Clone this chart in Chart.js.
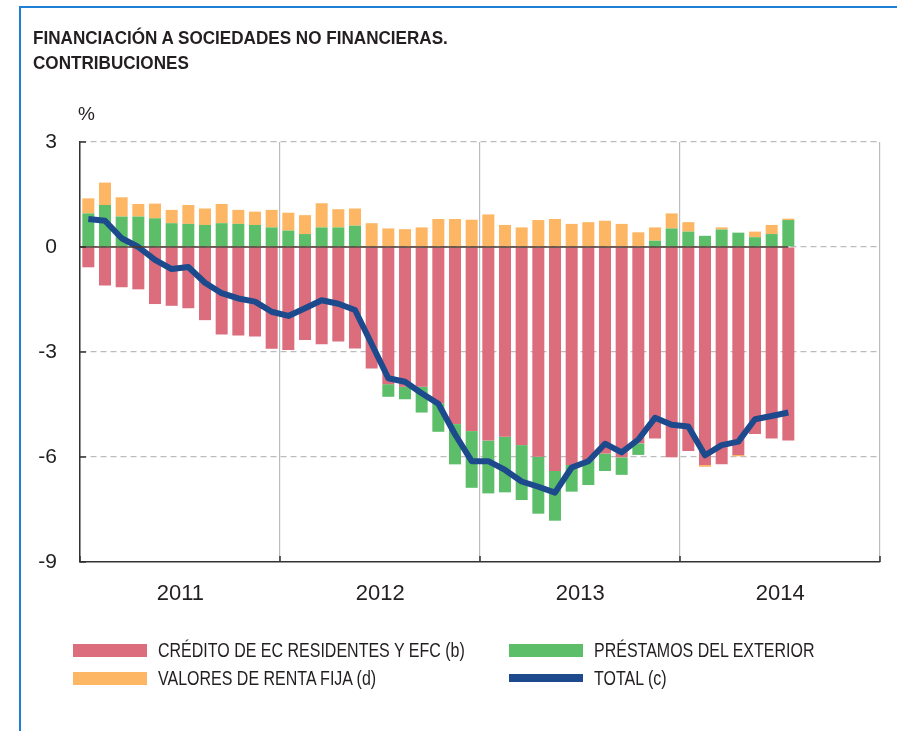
<!DOCTYPE html>
<html>
<head>
<meta charset="utf-8">
<script src="https://cdn.jsdelivr.net/npm/chart.js@4/dist/chart.umd.min.js"></script>
<style>
  body { margin: 0; background: #fff; font-family: "Liberation Sans", Arial, sans-serif; }
  #wrap { position: relative; width: 897px; height: 731px; overflow: hidden; }
  #frame { position: absolute; left: 19px; top: 6px; right: -5px; bottom: -5px;
           border-left: 2px solid #1f7fd4; border-top: 2px solid #1f7fd4; }
  canvas { position: absolute; left: 0; top: 0; }
  .title { position: absolute; left: 33px; top: 26px; font-weight: bold; font-size: 18px;
           line-height: 25px; color: #231f20; transform: scaleX(0.95); transform-origin: left top;
           white-space: nowrap; }
  .unit { position: absolute; left: 78px; top: 103px; font-size: 19px; color: #231f20; }
  .leg { position: absolute; display: flex; align-items: center; height: 18px; }
  .sw { width: 74px; height: 13px; }
  .lt { margin-left: 11px; font-size: 20px; color: #231f20; white-space: nowrap;
        transform: scaleX(0.8); transform-origin: left center; }
</style>
</head>
<body>
<div id="wrap">
  <div id="frame"></div>
  <canvas id="c" width="897" height="731"></canvas>
  <div class="title">FINANCIACIÓN A SOCIEDADES NO FINANCIERAS.<br>CONTRIBUCIONES</div>
  <div class="unit">%</div>
  <div id="legend"></div>
</div>
<script>
// años y meses (ene-2011 a dic-2014; datos hasta jul-2014)
const years = ['2011', '2012', '2013', '2014'];
const months = [];
years.forEach(y => { for (let m = 1; m <= 12; m++) months.push(y + '-' + String(m).padStart(2, '0')); });

// contribuciones, puntos porcentuales
const credito = [
  -0.58, -1.10, -1.15, -1.21, -1.63, -1.68, -1.75, -2.09, -2.50, -2.53, -2.56, -2.91,
  -2.94, -2.66, -2.78, -2.70, -2.90, -3.47, -3.92, -3.99, -3.99, -4.47, -5.06, -5.26,
  -5.53, -5.42, -5.66, -5.99, -6.40, -6.23, -6.09, -5.90, -6.01, -5.61, -5.47, -6.01,
  -5.83, -6.23, -6.21, -5.94, -5.34, -5.47, -5.53
];
const exterior = [
  0.96, 1.20, 0.87, 0.87, 0.82, 0.68, 0.66, 0.63, 0.68, 0.66, 0.63, 0.56,
  0.47, 0.37, 0.56, 0.56, 0.61, 0.00, -0.36, -0.36, -0.74, -0.81, -1.15, -1.62,
  -1.51, -1.59, -1.57, -1.63, -1.42, -0.76, -0.71, -0.50, -0.50, -0.33, 0.18, 0.53,
  0.44, 0.32, 0.50, 0.41, 0.28, 0.37, 0.77
];
const rentaFija = [
  0.43, 0.64, 0.55, 0.36, 0.42, 0.38, 0.54, 0.47, 0.55, 0.40, 0.38, 0.50,
  0.51, 0.54, 0.69, 0.52, 0.49, 0.68, 0.53, 0.51, 0.56, 0.80, 0.80, 0.78,
  0.93, 0.63, 0.56, 0.77, 0.80, 0.66, 0.71, 0.75, 0.66, 0.42, 0.38, 0.43,
  0.27, -0.05, 0.06, -0.04, 0.16, 0.26, 0.04
];
const total = [
  0.80, 0.75, 0.25, 0.00, -0.37, -0.63, -0.57, -1.02, -1.32, -1.47, -1.56, -1.85,
  -1.97, -1.75, -1.52, -1.62, -1.80, -2.77, -3.75, -3.85, -4.18, -4.48, -5.35, -6.12,
  -6.12, -6.37, -6.70, -6.85, -7.02, -6.30, -6.12, -5.62, -5.87, -5.50, -4.88, -5.08,
  -5.13, -5.95, -5.66, -5.56, -4.92, -4.83, -4.73
];
const yTicks = [3, 0, -3, -6, -9];

const colors = { credito: '#dc6d7d', exterior: '#5cbe68', rentaFija: '#fdb663', total: '#1d4a8c' };

// leyenda en dos columnas
const legendItems = [
  { text: 'CRÉDITO DE EC RESIDENTES Y EFC (b)', color: colors.credito, x: 73, y: 641 },
  { text: 'PRÉSTAMOS DEL EXTERIOR', color: colors.exterior, x: 509, y: 641 },
  { text: 'VALORES DE RENTA FIJA (d)', color: colors.rentaFija, x: 73, y: 669 },
  { text: 'TOTAL (c)', color: colors.total, x: 509, y: 669, thin: true }
];
const legendEl = document.getElementById('legend');
legendItems.forEach(it => {
  const d = document.createElement('div');
  d.className = 'leg';
  d.style.left = it.x + 'px';
  d.style.top = it.y + 'px';
  d.innerHTML = '<div class="sw" style="background:' + it.color + (it.thin ? ';height:8px' : '') +
    '"></div><div class="lt">' + it.text + '</div>';
  legendEl.appendChild(d);
});

// línea de cero oscura sobre el tramo con datos y marcas interiores
const extras = {
  id: 'extras',
  afterDatasetsDraw(chart) {
    const { ctx, chartArea, scales: { x, y } } = chart;
    const y0 = y.getPixelForValue(0);
    ctx.save();
    ctx.strokeStyle = '#4a3a30';
    ctx.lineWidth = 1.5;
    ctx.beginPath();
    ctx.moveTo(chartArea.left, y0);
    ctx.lineTo(x.getPixelForValue(credito.length - 1), y0);
    ctx.stroke();
    ctx.restore();
  },
  afterDraw(chart) {
    const { ctx, chartArea, scales: { x, y } } = chart;
    ctx.save();
    ctx.strokeStyle = '#333';
    ctx.lineWidth = 1.5;
    yTicks.forEach(v => {
      const py = y.getPixelForValue(v);
      ctx.beginPath();
      ctx.moveTo(chartArea.left, py);
      ctx.lineTo(chartArea.left + 6, py);
      ctx.stroke();
    });
    const half = (x.getPixelForValue(1) - x.getPixelForValue(0)) / 2;
    for (let i = 0; i <= months.length; i += 12) {
      const px = i < months.length ? x.getPixelForValue(i) - half : x.getPixelForValue(i - 1) + half;
      ctx.beginPath();
      ctx.moveTo(px, chartArea.bottom);
      ctx.lineTo(px, chartArea.bottom - 6);
      ctx.stroke();
    }
    ctx.restore();
  }
};

const barOpts = { barPercentage: 0.72, categoryPercentage: 1, borderWidth: 0, stack: 'barras', order: 1 };

new Chart(document.getElementById('c'), {
  type: 'bar',
  data: {
    labels: months,
    datasets: [
      { type: 'line', label: 'TOTAL (c)', data: total, borderColor: colors.total, borderWidth: 6,
        pointRadius: 0, tension: 0, borderJoinStyle: 'round', stack: 'linea', order: 0, fill: false },
      Object.assign({ label: 'CRÉDITO DE EC RESIDENTES Y EFC (b)', data: credito, backgroundColor: colors.credito }, barOpts),
      Object.assign({ label: 'PRÉSTAMOS DEL EXTERIOR', data: exterior, backgroundColor: colors.exterior }, barOpts),
      Object.assign({ label: 'VALORES DE RENTA FIJA (d)', data: rentaFija, backgroundColor: colors.rentaFija }, barOpts)
    ]
  },
  options: {
    responsive: false,
    devicePixelRatio: 1,
    animation: false,
    layout: { padding: { left: 20, right: 17, top: 142, bottom: 119 } },
    plugins: { legend: { display: false }, tooltip: { enabled: false } },
    scales: {
      x: {
        stacked: true,
        offset: true,
        afterFit: s => { s.height = 50; },
        grid: {
          offset: true,
          drawTicks: false,
          lineWidth: 1.2,
          color: c => (c.tick ? (c.index % 12 === 0 ? '#bcbcbc' : 'rgba(0,0,0,0)') : '#bcbcbc')
        },
        border: { display: true, color: '#333', width: 1.5 },
        ticks: {
          autoSkip: false,
          maxRotation: 0,
          padding: 19,
          labelOffset: -8,
          color: '#231f20',
          font: { family: 'Liberation Sans', size: 22 },
          callback: (v, i) => (i % 12 === 6 ? years[Math.floor(i / 12)] : '')
        }
      },
      y: {
        stacked: true,
        min: -9,
        max: 3,
        afterFit: s => { s.width = 60; },
        afterBuildTicks: s => { s.ticks = yTicks.map(v => ({ value: v })); },
        grid: {
          drawTicks: false,
          lineWidth: 1.2,
          color: c => (c.tick && c.tick.value === -9 ? 'rgba(0,0,0,0)' : '#bcbcbc')
        },
        border: { display: true, color: '#333', width: 1.5, dash: [6, 4] },
        ticks: {
          padding: 23,
          color: '#231f20',
          font: { family: 'Liberation Sans', size: 21 },
          callback: v => String(v)
        }
      }
    }
  },
  plugins: [extras]
});
</script>
</body>
</html>
